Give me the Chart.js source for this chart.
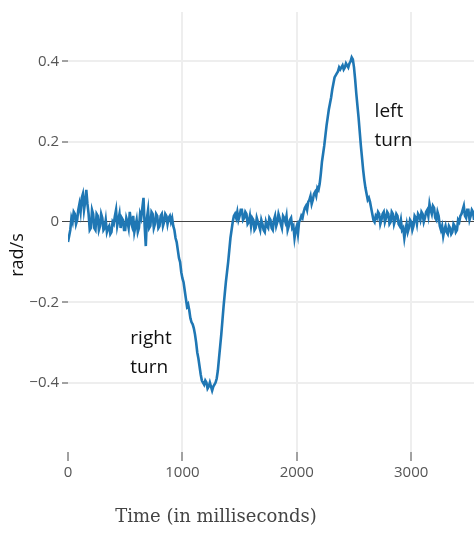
<!DOCTYPE html>
<html>
<head>
<meta charset="utf-8">
<script src="https://cdn.jsdelivr.net/npm/chart.js@4/dist/chart.umd.min.js"></script>
<style>
  body { margin: 0; background: #fff; }
  canvas { display: block; }
</style>
</head>
<body>
<canvas id="grafico_gyro" width="474" height="533"></canvas>
<script>
// gyroscope yaw rate, one sample every 10 ms
var sample_ms = 10;

// 0 - 900 ms, driving straight
var rate_straight_a = [
  -0.05, -0.035, -0.02, 0.01, 0.0, 0.025, 0.02, -0.005, 0.005, 0.03,
  0.045, 0.025, 0.06, 0.07, 0.03, 0.05, 0.08, 0.045, 0.02, -0.02,
  -0.015, 0.03, 0.02, -0.015, -0.02, 0.02, 0.015, -0.02, -0.01, 0.02,
  0.01, -0.02, -0.015, 0.005, -0.025, -0.015, -0.01, -0.03, -0.025, 0.0,
  -0.005, 0.015, 0.03, -0.01, 0.005, 0.02, -0.015, 0.01, 0.005, -0.02,
  -0.02, 0.01, 0.0, -0.015, 0.025, 0.0, -0.01, 0.015, -0.025, -0.01,
  0.005, -0.025, -0.015, 0.02, 0.01, 0.035, 0.06, -0.01, -0.06, 0.01,
  0.03, -0.015, -0.01, 0.025, 0.02, -0.015, -0.005, 0.02, 0.015, -0.015,
  -0.01, 0.015, 0.02, -0.01, 0.0, 0.02, 0.015, -0.005, 0.01, 0.015,
  0.0
];
// 910 - 1460 ms, right turn
var rate_right_turn = [
  0.01, -0.01, -0.02, -0.04, -0.05, -0.07, -0.09, -0.10, -0.125, -0.14,
  -0.15, -0.17, -0.19, -0.21, -0.205, -0.22, -0.24, -0.25, -0.255, -0.265,
  -0.28, -0.30, -0.325, -0.34, -0.36, -0.38, -0.395, -0.40, -0.405, -0.395,
  -0.40, -0.415, -0.41, -0.40, -0.41, -0.42, -0.41, -0.405, -0.40, -0.39,
  -0.37, -0.34, -0.31, -0.28, -0.245, -0.21, -0.18, -0.15, -0.125, -0.10,
  -0.07, -0.04, -0.02, 0.0, 0.015, 0.02
];
// 1470 - 2700 ms, straight then left turn
var rate_left_turn = [
  0.01, 0.025, 0.005, 0.015, 0.03, 0.03, 0.005, 0.01, 0.025, 0.02,
  -0.005, 0.0, 0.015, -0.01, 0.01, 0.005, -0.02, -0.015, 0.01, 0.0,
  -0.01, -0.02, 0.005, -0.005, -0.02, -0.025, 0.0, -0.01, -0.015, 0.01,
  0.005, -0.015, -0.02, 0.005, 0.015, -0.01, 0.0, 0.02, 0.01, -0.005,
  -0.015, 0.015, 0.01, 0.0, 0.015, -0.02, -0.01, 0.005, 0.01, -0.015,
  -0.01, -0.04, -0.02, -0.01, -0.03, 0.0, 0.005, 0.015, 0.01, 0.025,
  0.035, 0.04, 0.03, 0.05, 0.055, 0.065, 0.045, 0.055, 0.07, 0.075,
  0.065, 0.085, 0.08, 0.095, 0.12, 0.15, 0.17, 0.19, 0.215, 0.24,
  0.26, 0.28, 0.295, 0.31, 0.33, 0.345, 0.36, 0.365, 0.37, 0.375,
  0.385, 0.38, 0.385, 0.39, 0.38, 0.385, 0.395, 0.39, 0.385, 0.395,
  0.40, 0.41, 0.405, 0.385, 0.355, 0.32, 0.29, 0.26, 0.225, 0.19,
  0.16, 0.13, 0.105, 0.085, 0.07, 0.055, 0.06, 0.05, 0.035, 0.02,
  0.005, 0.0, 0.015, 0.01
];
// 2710 - 3560 ms, straight again
var rate_straight_b = [
  0.025, 0.02, -0.005, 0.005, 0.02, 0.025, 0.0, 0.01, 0.025, 0.02,
  -0.005, 0.0, 0.025, 0.02, -0.005, 0.005, 0.02, 0.015, -0.005, -0.01,
  0.005, -0.02, -0.015, -0.04, -0.02, -0.005, -0.025, -0.015, 0.005, 0.0,
  -0.02, -0.01, 0.015, 0.01, -0.005, 0.02, 0.015, 0.005, 0.025, 0.02,
  0.0, 0.01, 0.025, 0.03, 0.015, 0.045, 0.03, 0.02, 0.04, 0.035,
  0.01, 0.005, 0.025, 0.015, -0.01, -0.02, -0.01, -0.035, -0.02, -0.01,
  -0.025, -0.03, -0.01, -0.015, -0.03, -0.025, -0.005, -0.01, -0.025, -0.02,
  0.005, 0.0, 0.015, 0.02, 0.03, 0.04, 0.015, 0.01, 0.03, 0.03,
  0.005, 0.015, 0.03, 0.025, 0.005, 0.01
];

var x_ticks = [0, 1000, 2000, 3000];
var y_ticks = [-0.4, -0.2, 0, 0.2, 0.4];

var turn_notes = [
  { lines: ['left', 'turn'], t: 2680, v: 0.24 },
  { lines: ['right', 'turn'], t: 545, v: -0.326 }
];

var all_rates = rate_straight_a.concat(rate_right_turn, rate_left_turn, rate_straight_b);
var points = [];
for (var i = 0; i < all_rates.length; i++) {
  points.push({ x: i * sample_ms, y: all_rates[i] });
}

// axis titles and the two turn notes
var testi_plugin = {
  id: 'testi',
  afterDatasetsDraw: function(chart) {
    var ctx = chart.ctx;
    var sx = chart.scales.x;
    var sy = chart.scales.y;
    ctx.save();
    ctx.fillStyle = '#111';
    ctx.font = '19px "Open Sans"';
    ctx.textAlign = 'left';
    ctx.textBaseline = 'middle';
    for (var k = 0; k < turn_notes.length; k++) {
      var n = turn_notes[k];
      var px = sx.getPixelForValue(n.t);
      var py = sy.getPixelForValue(n.v);
      ctx.fillText(n.lines[0], px, py - 14.5);
      ctx.fillText(n.lines[1], px, py + 14.5);
    }

    ctx.fillStyle = '#444';
    ctx.font = '18px "DejaVu Serif"';
    ctx.textAlign = 'center';
    ctx.fillText('Time (in milliseconds)', 216, 517);

    ctx.translate(18, 255);
    ctx.rotate(-Math.PI / 2);
    ctx.fillStyle = '#111';
    ctx.font = '18px "Open Sans"';
    ctx.fillText('rad/s', 0, 0);
    ctx.restore();
  }
};

new Chart(document.getElementById('grafico_gyro'), {
  type: 'line',
  data: {
    datasets: [{
      data: points,
      borderColor: '#1f77b4',
      borderWidth: 2.6,
      pointRadius: 0,
      tension: 0,
      fill: false
    }]
  },
  options: {
    responsive: false,
    animation: false,
    layout: { padding: { top: 7, right: 0, left: 0, bottom: 0 } },
    plugins: { legend: { display: false }, tooltip: { enabled: false } },
    scales: {
      x: {
        type: 'linear',
        min: 0,
        max: 3549,
        afterBuildTicks: function(scale) {
          scale.ticks = x_ticks.map(function(v) { return { value: v }; });
        },
        afterFit: function(scale) { scale.height = 81; },
        border: { display: false },
        grid: {
          color: function(c) { return c.tick && c.tick.value === 0 ? 'rgba(0,0,0,0)' : '#eeeeee'; },
          lineWidth: 2,
          tickColor: '#444',
          tickWidth: 1,
          tickLength: 9
        },
        ticks: {
          color: '#555',
          font: { family: 'Open Sans', size: 15 },
          padding: 3,
          maxRotation: 0,
          callback: function(v) { return String(v); }
        }
      },
      y: {
        min: -0.573,
        max: 0.523,
        afterBuildTicks: function(scale) {
          scale.ticks = y_ticks.map(function(v) { return { value: v }; });
        },
        afterFit: function(scale) { scale.width = 68; },
        border: { display: false },
        grid: {
          color: function(c) { return c.tick && c.tick.value === 0 ? '#444' : '#eeeeee'; },
          lineWidth: function(c) { return c.tick && c.tick.value === 0 ? 1 : 2; },
          tickColor: '#444',
          tickWidth: 1,
          tickLength: 6
        },
        ticks: {
          color: '#555',
          font: { family: 'Open Sans', size: 15 },
          padding: 3,
          callback: function(v) {
            if (v === 0) return '0';
            return (v < 0 ? '\u2212' : '') + Math.abs(v).toFixed(1);
          }
        }
      }
    }
  },
  plugins: [testi_plugin]
});
</script>
</body>
</html>
